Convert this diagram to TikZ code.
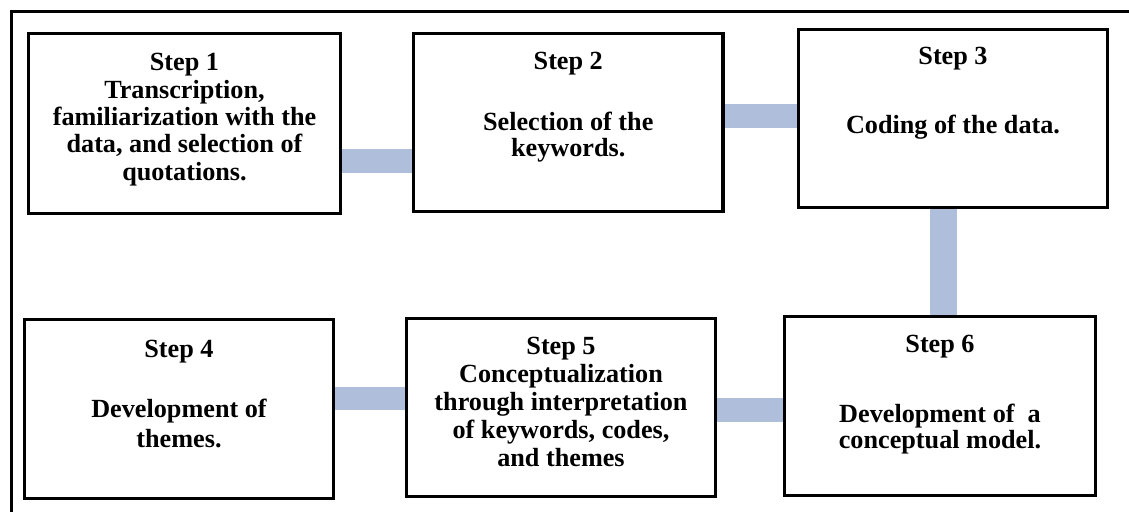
\documentclass[tikz,border=0pt]{standalone}
\usepackage{fontspec}
\setmainfont{Liberation Serif}
\definecolor{connblue}{RGB}{175,191,219}
\newcommand\stepfont[1]{\fontsize{26.2}{#1}\selectfont\bfseries}
\begin{document}
\begin{tikzpicture}[x=1pt,y=-1pt,
  stepbox/.style={draw=black, line width=3.6pt, fill=white, rectangle, inner sep=0pt},
  conn/.style={draw=connblue, line width=24pt},
  frameline/.style={draw=black, line width=3.8pt},
  txt/.style={align=center, inner sep=0pt, anchor=base}]
\useasboundingbox (0,0) rectangle (1129,512);
\fill[white] (0,0) rectangle (1129,512);
% frame (only top and left edges visible)
\draw[frameline] (1129,11.5) -- (11.5,11.5) -- (11.5,512);
% boxes
\node[stepbox, minimum width=312pt, minimum height=180pt] (s1) at (184.5,123.5) {};
\node[stepbox, minimum width=309.5pt, minimum height=178pt] (s2) at (568.25,122.5) {};
\node[stepbox, minimum width=309pt, minimum height=178pt] (s3) at (953,118.5) {};
\node[stepbox, minimum width=309pt, minimum height=179pt] (s4) at (179,409) {};
\node[stepbox, minimum width=309pt, minimum height=178pt] (s5) at (561,407.5) {};
\node[stepbox, minimum width=311pt, minimum height=179pt] (s6) at (940,406) {};
% connector positions
\coordinate (c12) at (0,160.5);
\coordinate (c23) at (0,115.5);
\coordinate (c36) at (943.5,0);
\coordinate (c45) at (0,398.5);
\coordinate (c56) at (0,410);
\draw[conn] (s1.east |- c12) -- (s2.west |- c12);
\draw[conn] (s2.east |- c23) -- (s3.west |- c23);
\draw[conn, line width=27pt] (s3.south -| c36) -- (s6.north -| c36);
\draw[conn, line width=23pt] (s4.east |- c45) -- (s5.west |- c45);
\draw[conn] (s5.east |- c56) -- (s6.west |- c56);
% texts (base anchor = baseline of the last line)
\node[txt, font=\stepfont{27.3}] (t1) at (184.5,180)
  {Step 1\\Transcription,\\familiarization with the\\data, and selection of\\quotations.};
\node[txt, font=\stepfont{26.5}] (t2) at (568.25,156.5)
  {Step 2\\[34.5pt]Selection of the\\keywords.};
\node[txt, font=\stepfont{27}] (t3) at (953,133)
  {Step 3\\[42pt]Coding of the data.};
\node[txt, font=\stepfont{30}] (t4) at (179,447)
  {Step 4\\[30pt]Development of\\themes.};
\node[txt, font=\stepfont{28}] (t5) at (561,466)
  {Step 5\\Conceptualization\\through interpretation\\of keywords, codes,\\and themes};
\node[txt, font=\stepfont{26.5}] (t6) at (940,448.5)
  {Step 6\\[43.5pt]Development of \ a\\conceptual model.};
\end{tikzpicture}
\end{document}
